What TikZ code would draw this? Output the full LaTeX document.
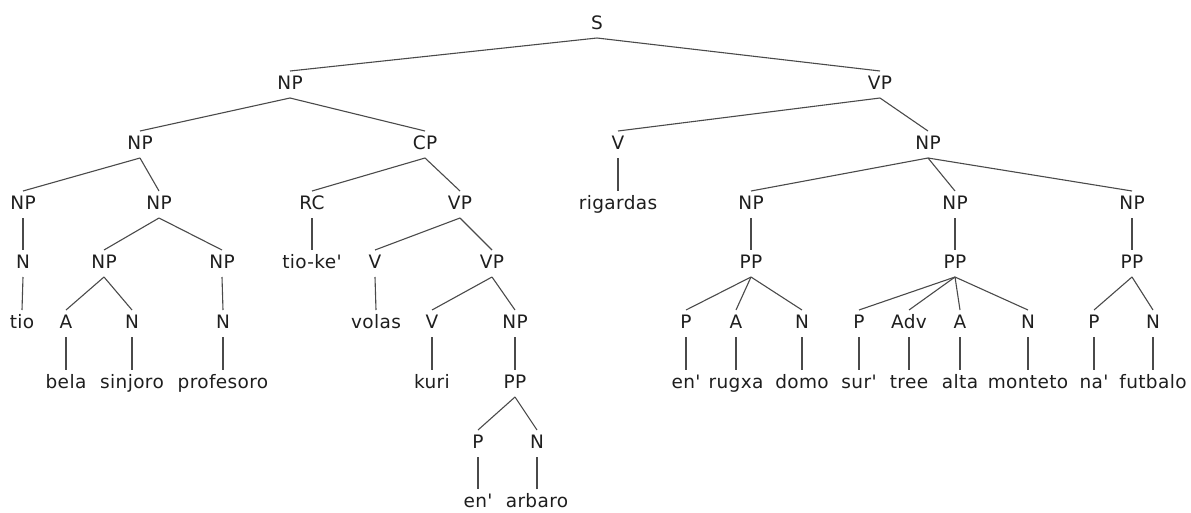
\documentclass[tikz,border=0pt]{standalone}
\usepackage{fontspec}
\newfontfamily\treefont{DejaVu Sans}[LetterSpace=2]
\definecolor{txt}{HTML}{1E1E1E}
\definecolor{ln}{HTML}{4A4A4A}
\begin{document}
\begin{tikzpicture}[x=1pt,y=-1pt,
  lab/.style={inner sep=0pt, outer sep=0pt, text height=13pt, text depth=0pt, font=\treefont\fontsize{18.5}{20}\selectfont, text=txt},
  edge/.style={draw=ln, line width=1.1pt}]
\useasboundingbox (0,0) rectangle (1191,512);
% rows
\def\ra{23}\def\rb{83}\def\rc{143}\def\rd{203}\def\re{262}\def\rf{322}\def\rg{382}\def\rh{442}\def\ri{501}
\node[lab] (S) at (597,\ra) {S};
\node[lab] (a1) at (290,\rb) {NP};
\node[lab] (a2) at (880,\rb) {VP};
\node[lab] (b1) at (140,\rc) {NP};
\node[lab] (b2) at (425,\rc) {CP};
\node[lab] (b3) at (618,\rc) {V};
\node[lab] (b4) at (928,\rc) {NP};
\node[lab] (c1) at (23,\rd) {NP};
\node[lab] (c2) at (159,\rd) {NP};
\node[lab] (c3) at (312,\rd) {RC};
\node[lab] (c4) at (460,\rd) {VP};
\node[lab] (c5) at (618,\rd) {rigardas};
\node[lab] (c6) at (751,\rd) {NP};
\node[lab] (c7) at (955,\rd) {NP};
\node[lab] (c8) at (1132,\rd) {NP};
\node[lab] (d1) at (23,\re) {N};
\node[lab] (d2) at (104,\re) {NP};
\node[lab] (d3) at (222,\re) {NP};
\node[lab] (d4) at (312,\re) {tio-ke'};
\node[lab] (d5) at (375,\re) {V};
\node[lab] (d6) at (492,\re) {VP};
\node[lab] (d7) at (751,\re) {PP};
\node[lab] (d8) at (955,\re) {PP};
\node[lab] (d9) at (1132,\re) {PP};
\node[lab] (e1) at (22,\rf) {tio};
\node[lab] (e2) at (66,\rf) {A};
\node[lab] (e3) at (132,\rf) {N};
\node[lab] (e4) at (223,\rf) {N};
\node[lab] (e5) at (376,\rf) {volas};
\node[lab] (e6) at (432,\rf) {V};
\node[lab] (e7) at (515,\rf) {NP};
\node[lab] (e8) at (686,\rf) {P};
\node[lab] (e9) at (736,\rf) {A};
\node[lab] (e10) at (802,\rf) {N};
\node[lab] (e11) at (859,\rf) {P};
\node[lab] (e12) at (909,\rf) {Adv};
\node[lab] (e13) at (960,\rf) {A};
\node[lab] (e14) at (1028,\rf) {N};
\node[lab] (e15) at (1094,\rf) {P};
\node[lab] (e16) at (1153,\rf) {N};
\node[lab] (f2) at (66,\rg) {bela};
\node[lab] (f3) at (132,\rg) {sinjoro};
\node[lab] (f4) at (223,\rg) {profesoro};
\node[lab] (f6) at (432,\rg) {kuri};
\node[lab] (f7) at (515,\rg) {PP};
\node[lab] (f8) at (686,\rg) {en'};
\node[lab] (f9) at (736,\rg) {rugxa};
\node[lab] (f10) at (802,\rg) {domo};
\node[lab] (f11) at (859,\rg) {sur'};
\node[lab] (f12) at (909,\rg) {tree};
\node[lab] (f13) at (960,\rg) {alta};
\node[lab] (f14) at (1028,\rg) {monteto};
\node[lab] (f15) at (1094,\rg) {na'};
\node[lab] (f16) at (1153,\rg) {futbalo};
\node[lab] (g1) at (478,\rh) {P};
\node[lab] (g2) at (537,\rh) {N};
\node[lab] (h1) at (478,\ri) {en'};
\node[lab] (h2) at (537,\ri) {arbaro};
\foreach \p/\c in {S/a1,S/a2,a1/b1,a1/b2,a2/b3,a2/b4,b1/c1,b1/c2,b2/c3,b2/c4,b3/c5,
  b4/c6,b4/c7,b4/c8,c1/d1,c2/d2,c2/d3,c3/d4,c4/d5,c4/d6,c6/d7,c7/d8,c8/d9,
  d1/e1,d2/e2,d2/e3,d3/e4,d5/e5,d6/e6,d6/e7,d7/e8,d7/e9,d7/e10,d8/e11,d8/e12,d8/e13,d8/e14,
  d9/e15,d9/e16,e2/f2,e3/f3,e4/f4,e6/f6,e7/f7,e8/f8,e9/f9,e10/f10,e11/f11,e12/f12,e13/f13,
  e14/f14,e15/f15,e16/f16,f7/g1,f7/g2,g1/h1,g2/h2}
  \draw[edge] ([yshift=-8.5pt]\p.south) -- ([yshift=5.5pt]\c.north);
\end{tikzpicture}
\end{document}
